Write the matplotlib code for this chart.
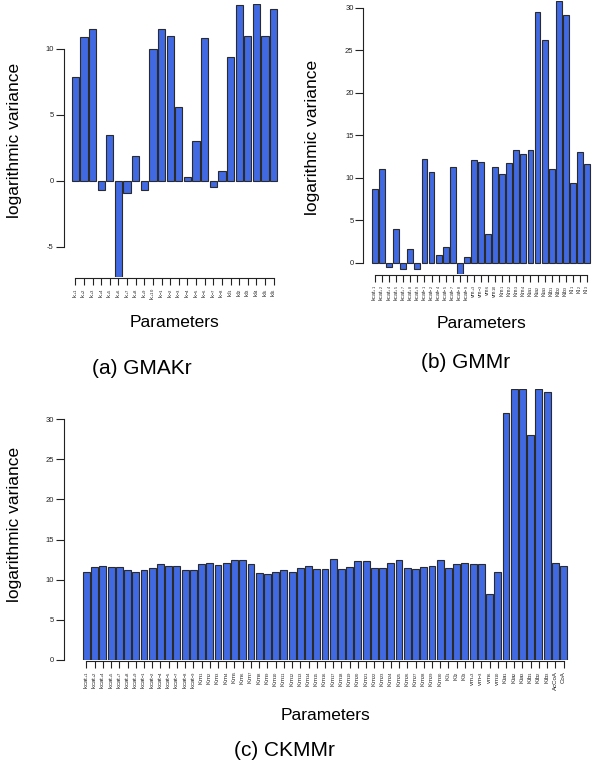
import numpy as np
import matplotlib
matplotlib.use('Agg')
import matplotlib.pyplot as plt

plt.rcParams['font.family'] = ['Liberation Sans', 'DejaVu Sans']
plt.rcParams['mathtext.fontset'] = 'custom'
plt.rcParams['mathtext.rm'] = 'Liberation Sans'
plt.rcParams['mathtext.it'] = 'Liberation Sans:italic'
plt.rcParams['mathtext.bf'] = 'Liberation Sans:bold'

# ---- data ----
gmak_labels = ([r'$\mathrm{k}_{+%d}$' % i for i in range(1, 11)]
               + [r'$\mathrm{k}_{-%d}$' % i for i in range(1, 9)]
               + [r'$\mathrm{kI}_{%d}$' % i for i in range(1, 7)])
gmak_vals = [7.9, 10.9, 11.5, -0.7, 3.5, -7.3, -0.9, 1.9, -0.7, 10.0, 11.5, 11.0,
             5.6, 0.3, 3.0, 10.8, -0.5, 0.7, 9.4, 13.3, 11.0, 13.4, 11.0, 13.0]

kcat_labels = ([r'$\mathrm{kcat}_{+%d}$' % i for i in [1, 2, 4, 5, 7, 8, 9]]
               + [r'$\mathrm{kcat}_{-%d}$' % i for i in [1, 2, 4, 5, 7, 8, 9]])
vm_labels = [r'$\mathrm{vm}_{+3}$', r'$\mathrm{vm}_{-3}$', r'$\mathrm{vm}_{6}$', r'$\mathrm{vm}_{10}$']
kia_labels = ([r'$\mathrm{Kia}_{%d}$' % i for i in range(1, 4)]
              + [r'$\mathrm{Kib}_{%d}$' % i for i in range(1, 4)])
ki_labels = [r'$\mathrm{KI}_{%d}$' % i for i in range(1, 4)]

gmm_labels = (kcat_labels + vm_labels + [r'$\mathrm{Km}_{%d}$' % i for i in range(1, 5)]
              + kia_labels + ki_labels)
gmm_vals = [8.7, 11.0, -0.5, 4.0, -0.7, 1.65, -0.7, 12.25, 10.7, 0.9, 1.9, 11.25,
            -1.3, 0.75, 12.15, 11.8, 3.4, 11.25, 10.45, 11.75, 13.25, 12.8, 13.25,
            29.5, 26.15, 11.0, 30.75, 29.1, 9.4, 13.05, 11.6]

ckmm_labels = (kcat_labels + [r'$\mathrm{Km}_{%d}$' % i for i in range(1, 31)]
               + ki_labels + vm_labels + kia_labels + ['AcCoA', 'CoA'])
ckmm_vals = [10.9, 11.55, 11.65, 11.6, 11.55, 11.2, 10.9, 11.2, 11.45, 11.9,
             11.75, 11.75, 11.2, 11.15, 11.9, 12.05, 11.8, 12.1, 12.45, 12.4,
             11.9, 10.8, 10.7, 10.95, 11.2, 10.95, 11.4, 11.7, 11.3, 11.3,
             12.6, 11.3, 11.6, 12.3, 12.3, 11.5, 11.5, 12.1, 12.4, 11.5,
             11.3, 11.6, 11.7, 12.5, 11.5, 12.0, 12.1, 11.9, 12.0, 8.2,
             10.9, 30.8, 33.8, 33.7, 28.0, 33.7, 33.4, 12.1, 11.7]

W, H = 600, 776
fig = plt.figure(figsize=(W / 100, H / 100), dpi=100)


def panel(rect_px, labels, vals, yticks, ylab_x, xlab_y, caption, cap_xy, lab_size=4.4):
    l, r, t, b = rect_px
    ax = fig.add_axes([l / W, 1 - b / H, (r - l) / W, (b - t) / H])
    n = len(vals)
    x = np.arange(n)
    ax.bar(x, vals, width=1 / 1.2, color='#4169E1', edgecolor='#2b2b2b', linewidth=0.8)
    pad = 0.04 * (n * 1.2 - 0.2) / 1.2
    ax.set_xlim(-0.5 / 1.2 - pad, n - 1 + 0.5 / 1.2 + pad)
    ax.set_ylim(min(min(vals), 0), max(vals))
    for s in ['top', 'right']:
        ax.spines[s].set_visible(False)
    ax.spines['left'].set_bounds(yticks[0], yticks[-1])
    ax.spines['bottom'].set_bounds(0, n - 1)
    ax.spines['bottom'].set_position(('outward', 1))
    for s in ['left', 'bottom']:
        ax.spines[s].set_linewidth(0.8)
        ax.spines[s].set_color('#222222')
    ax.set_yticks(yticks)
    ax.set_yticklabels([str(v) for v in yticks], fontsize=5.5)
    ax.set_xticks(x)
    ax.set_xticklabels(labels, rotation=90, fontsize=lab_size, va='top', ha='center')
    ax.tick_params(axis='y', direction='out', length=5.5, width=0.8, pad=1.5, colors='#222222')
    ax.tick_params(axis='x', direction='out', length=5, width=0.8, pad=2, colors='#222222')
    fig.text(ylab_x / W, 1 - (t + b) / 2 / H, 'logarithmic variance', rotation=90,
             ha='center', va='center', fontsize=12.5)
    fig.text((l + r) / 2 / W, 1 - xlab_y / H, 'Parameters', ha='center', va='center', fontsize=12.5)
    fig.text(cap_xy[0] / W, 1 - cap_xy[1] / H, caption, ha='center', va='center', fontsize=15)
    return ax


panel((63.5, 285.5, 4, 277), gmak_labels, gmak_vals, [-5, 0, 5, 10], 15, 322,
      '(a) GMAKr', (142, 368))
panel((363.3, 598.7, 1.2, 274), gmm_labels, gmm_vals, [0, 5, 10, 15, 20, 25, 30], 313, 323,
      '(b) GMMr', (466, 362), lab_size=3.9)
panel((63.6, 586.4, 388.6, 660), ckmm_labels, ckmm_vals, [0, 5, 10, 15, 20, 25, 30], 15, 715,
      '(c) CKMMr', (284, 750))

fig.savefig('out.png', dpi=100)
